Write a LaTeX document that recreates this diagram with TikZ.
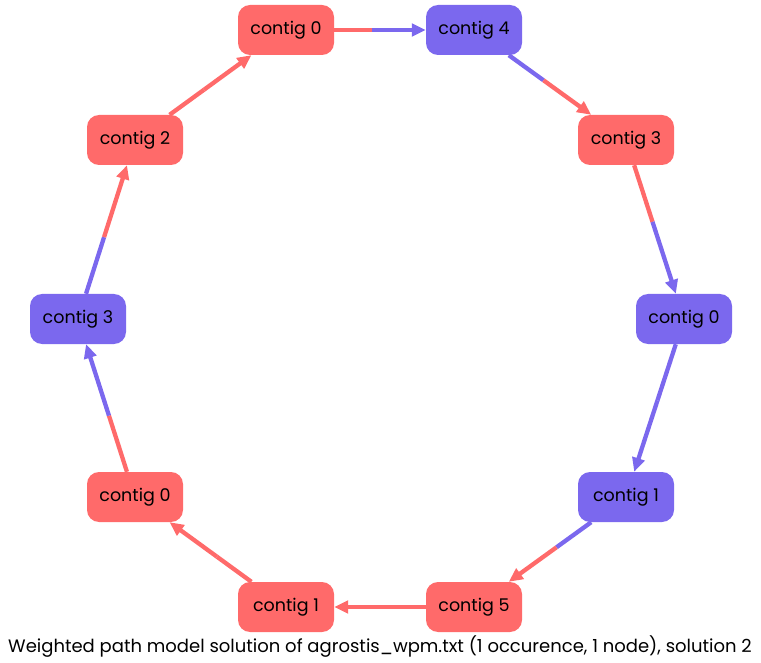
\documentclass[tikz,border=0pt]{standalone}
\usepackage{fontspec}
\setmainfont{Poppins}
\usetikzlibrary{arrows.meta,calc}
\definecolor{cred}{HTML}{FF6A6A}
\definecolor{cblue}{HTML}{7B68EE}
\begin{document}
\begin{tikzpicture}[x=1pt,y=-1pt,
  contig/.style={rounded corners=12pt,minimum width=96pt,minimum height=50pt,inner sep=0pt,font=\fontsize{17.5}{20}\selectfont,text=black},
  rn/.style={contig,fill=cred},
  bn/.style={contig,fill=cblue},
  half/.style={line width=4.3pt},
  tip/.style={half,-{Triangle[length=14pt,width=12.5pt]}}]
\useasboundingbox (0,0) rectangle (761,663);
\node[rn] (a) at (286,30) {contig 0};
\node[bn] (b) at (474,30) {contig 4};
\node[rn] (c) at (626,140) {contig 3};
\node[bn] (d) at (684,319) {contig 0};
\node[bn] (e) at (626,497) {contig 1};
\node[rn] (f) at (474,607) {contig 5};
\node[rn] (g) at (286,607) {contig 1};
\node[rn] (h) at (135,497) {contig 0};
\node[bn] (i) at (78,319) {contig 3};
\node[rn] (j) at (135,140) {contig 2};
\node[inner sep=0pt] (cap) at (380,647) {\fontsize{18}{20}\selectfont Weighted path model solution of agrostis\_wpm.txt (1 occurence, 1 node), solution 2};
\foreach \s/\t/\cs/\ct in {a/b/cred/cblue, b/c/cblue/cred, c/d/cred/cblue, d/e/cblue/cblue, e/f/cblue/cred, f/g/cred/cred, g/h/cred/cred, h/i/cred/cblue, i/j/cblue/cred, j/a/cred/cred}{
  \path (\s) -- (\t) coordinate[pos=0] (A\s\t) coordinate[pos=1] (B\s\t);
  \coordinate (M\s\t) at ($(A\s\t)!0.5!(B\s\t)$);
  \coordinate (S\s\t) at ($(M\s\t)!8pt!(A\s\t)$);
  \draw[half,\cs] (\s) -- (S\s\t);
  \draw[tip,\ct] (S\s\t) -- (\t);
}
\end{tikzpicture}
\end{document}
